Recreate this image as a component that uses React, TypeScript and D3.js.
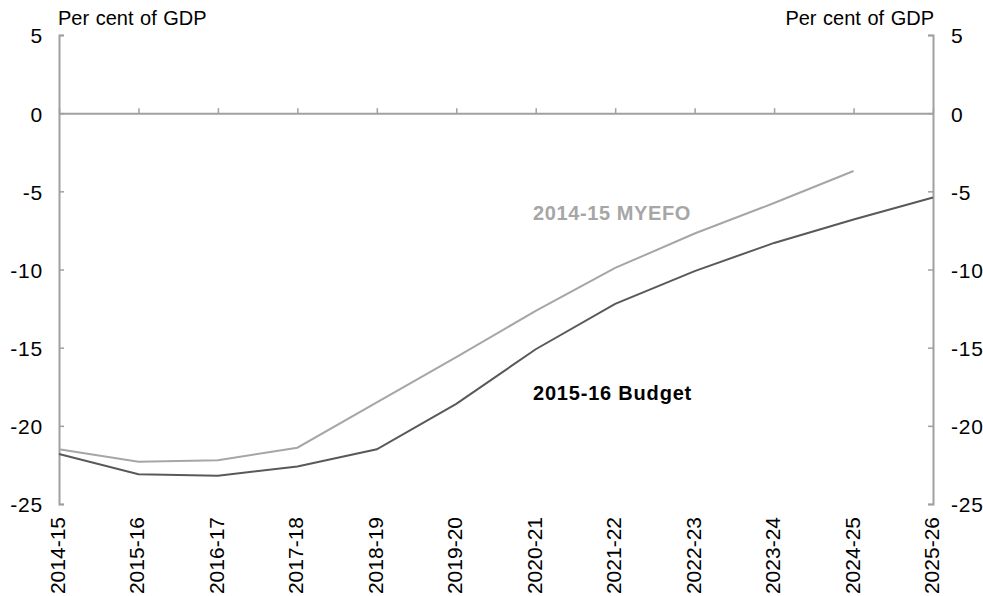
import React, { useEffect, useRef } from "react";
import * as d3 from "d3";

const years = [
  "2014-15", "2015-16", "2016-17", "2017-18", "2018-19", "2019-20",
  "2020-21", "2021-22", "2022-23", "2023-24", "2024-25", "2025-26",
];
const budget = [-21.8, -23.1, -23.2, -22.6, -21.5, -18.6, -15.1, -12.2, -10.1, -8.3, -6.8, -5.4];
const myefo = [-21.5, -22.3, -22.2, -21.4, -18.5, -15.6, -12.65, -9.9, -7.7, -5.75, -3.7];
const yTicks = [5, 0, -5, -10, -15, -20, -25];

const App = () => {
  const svgRef = useRef<SVGSVGElement>(null);

  useEffect(() => {
    const w = 983;
    const h = 596;
    const left = 59;
    const right = 933;
    const top = 35;
    const bottom = 504;
    const font = "Arial, 'Liberation Sans', sans-serif";
    const axisCol = "#a0a0a0";

    const svg = d3.select(svgRef.current).attr("width", w).attr("height", h);
    svg.selectAll("*").remove();

    const x = d3.scalePoint<string>().domain(years).range([left, right]);
    const y = d3.scaleLinear().domain([-25, 5]).range([bottom, top]);

    // left axis
    const la = svg.append("g").attr("transform", `translate(${left},0)`)
      .call(d3.axisRight(y).tickValues(yTicks).tickSize(5).tickFormat(() => ""));
    la.select(".domain").attr("stroke", axisCol).attr("stroke-width", 2);
    la.selectAll(".tick line").attr("stroke", axisCol).attr("stroke-width", 1.5);

    // right axis
    const ra = svg.append("g").attr("transform", `translate(${right},0)`)
      .call(d3.axisLeft(y).tickValues(yTicks).tickSize(5).tickFormat(() => ""));
    ra.select(".domain").attr("stroke", axisCol).attr("stroke-width", 2);
    ra.selectAll(".tick line").attr("stroke", axisCol).attr("stroke-width", 1.5);

    // zero axis
    const xa = svg.append("g").attr("transform", `translate(0,${y(0)})`)
      .call(d3.axisTop(x).tickSize(5).tickSizeOuter(0).tickFormat(() => ""));
    xa.select(".domain").attr("stroke", axisCol).attr("stroke-width", 2);
    xa.selectAll(".tick line").attr("stroke", axisCol).attr("stroke-width", 1.5);

    // y labels
    const yl = svg.append("g").style("font-family", font).style("font-size", "21px")
      .style("letter-spacing", "0.8px").attr("fill", "#000");
    yl.selectAll(".l").data(yTicks).join("text")
      .attr("x", 43).attr("y", (d) => y(d) + 1).attr("dy", "0.35em")
      .attr("text-anchor", "end").text((d) => d);
    yl.selectAll(".r").data(yTicks).join("text")
      .attr("x", 951).attr("y", (d) => y(d) + 1).attr("dy", "0.35em")
      .attr("text-anchor", "start").text((d) => d);

    // category labels
    svg.append("g").style("font-family", font).style("font-size", "21px")
      .selectAll("text").data(years).join("text")
      .attr("transform", (d) => `translate(${(x(d) ?? 0) + 6},517) rotate(-90)`)
      .attr("text-anchor", "end").text((d) => d);

    // units
    svg.append("text").attr("x", 58).attr("y", 25)
      .style("font-family", font).style("font-size", "20px").style("word-spacing", "1px")
      .text("Per cent of GDP");
    svg.append("text").attr("x", 934).attr("y", 25).attr("text-anchor", "end")
      .style("font-family", font).style("font-size", "20px").style("word-spacing", "1px")
      .text("Per cent of GDP");

    const line = d3.line<number>().x((d, i) => x(years[i]) ?? 0).y((d) => y(d));

    svg.append("path").datum(myefo).attr("d", line).attr("fill", "none")
      .attr("stroke", "#a6a6a6").attr("stroke-width", 2);
    svg.append("path").datum(budget).attr("d", line).attr("fill", "none")
      .attr("stroke", "#595959").attr("stroke-width", 2);

    svg.append("text").attr("x", 533).attr("y", 220)
      .style("font-family", font).style("font-size", "20px").style("font-weight", "bold")
      .style("letter-spacing", "0.6px").attr("fill", "#a6a6a6").text("2014-15 MYEFO");
    svg.append("text").attr("x", 533).attr("y", 400)
      .style("font-family", font).style("font-size", "20px").style("font-weight", "bold")
      .style("letter-spacing", "0.8px").attr("fill", "#000").text("2015-16 Budget");
  }, []);

  return <svg ref={svgRef} style={{ position: "absolute", left: 0, top: 0 }}></svg>;
};

export default App;
